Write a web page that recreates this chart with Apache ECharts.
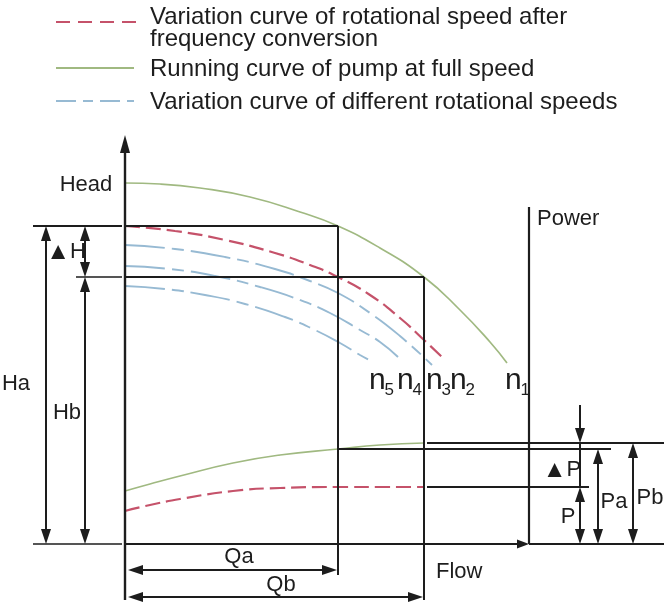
<!DOCTYPE html>
<html><head><meta charset="utf-8">
<script src="https://cdn.jsdelivr.net/npm/echarts@6/dist/echarts.min.js"></script>
<style>html,body{margin:0;padding:0;background:#fff}#c{width:666px;height:606px}</style>
</head><body><div id="c"></div>
<script>
// ---- Data (flow Q on x, head H / power P on y; origin at axis crossing) ----
const fullSpeedHeadQ = [0, 35, 75, 125, 175, 213, 255, 299, 335, 365, 382];
const fullSpeedHeadH = [361, 360, 356, 347, 332, 318, 296, 267, 234, 202, 181];
const vfdHeadQ = [0, 50, 100, 150, 185, 213, 245, 275, 299, 318];
const vfdHeadH = [318, 313, 304, 291, 279, 267, 249, 226, 204, 186];
const n3Q = [0, 50, 100, 150, 185, 213, 245, 275, 307];
const n3H = [299, 295, 287, 275, 263, 251, 231, 208, 179];
const n4Q = [0, 45, 90, 135, 175, 205, 235, 255, 273];
const n4H = [278, 275, 268, 257, 244, 231, 214, 202, 187];
const n5Q = [0, 40, 80, 120, 160, 190, 215, 235, 248];
const n5H = [258, 255, 249, 240, 227, 214, 201, 189, 182];
const fullSpeedPowerQ = [0, 25, 55, 108, 155, 213, 255, 299];
const fullSpeedPowerP = [53, 60, 68, 81, 89, 95, 99, 101];
const vfdPowerQ = [0, 25, 55, 108, 155, 213, 255, 299];
const vfdPowerP = [33, 39, 45, 53, 56, 57, 57, 57];
const speedSubscripts = ['5', '4', '3', '2', '1'];
const legendNames = [
  'Variation curve of rotational speed after\nfrequency conversion',
  'Running curve of pump at full speed',
  'Variation curve of different rotational speeds'
];
const axisNames = ['Head', 'Power', 'Flow'];
const dimNames = ['Ha', 'Hb', '{t|▲}H', 'Qa', 'Qb', '{t|▲}P', 'P', 'Pa', 'Pb'];
// operating points
const Qa = 213, Qb = 299, Ha = 318, Hb = 267, Pa = 95, Pb = 101, Pp = 57;

// ---- Layout ----
const FONT = '"Liberation Sans", Arial, Helvetica, sans-serif';
const INK = '#1d1d1d';
const RED = '#c5526a', GREEN = '#a0b981', BLUE = '#97bad3';
const L = {
  headTop: 409, bottom: -56, powerX: 404, rightEdge: 539, leftEdge: -92, powerTop: 337,
  qaY: -26, qbY: -53, haX: -79, hbX: -40, hbLeft: -49,
  dpX: 455, dpTop: 139, paX: 473, pbX: 508, paEnd: 486, pEnd: 464, lineStart: 302,
  nX: [244, 272, 301, 325, 380], nBase: 153
};
const zip = (a, b) => a.map((v, i) => [v, b[i]]);

// segments: x1,y1,x2,y2,arrowStart,arrowEnd,headLen,headHalfW,lineWidth
const segs = [
  [0, L.bottom, 0, L.headTop, 0, 1, 18, 5, 2.4],
  [0, 0, L.powerX, 0, 0, 1, 12, 4.5, 2.2],
  [L.powerX, 0, L.rightEdge, 0, 0, 0, 0, 0, 2],
  [L.leftEdge, 0, -3, 0, 0, 0, 0, 0, 1.6],
  [L.leftEdge, Ha, -3, Ha, 0, 0, 0, 0, 1.8],
  [L.hbLeft, Hb, -3, Hb, 0, 0, 0, 0, 1.6],
  [0, Ha, Qa, Ha, 0, 0, 0, 0, 2],
  [Qa, Ha, Qa, -31, 0, 0, 0, 0, 2],
  [0, Hb, Qb, Hb, 0, 0, 0, 0, 2],
  [Qb, Hb, Qb, L.bottom, 0, 0, 0, 0, 2],
  [L.powerX, L.powerTop, L.powerX, 0, 0, 0, 0, 0, 2.2],
  [L.haX, Ha, L.haX, 0, 1, 1, 15, 5, 2],
  [L.hbX, Ha, L.hbX, Hb, 1, 1, 15, 5, 2],
  [L.hbX, Hb, L.hbX, 0, 1, 1, 15, 5, 2],
  [3, L.qaY, Qa - 1, L.qaY, 1, 1, 15, 5, 2],
  [3, L.qbY, Qb - 1, L.qbY, 1, 1, 15, 5, 2],
  [L.lineStart, Pb, L.rightEdge, Pb, 0, 0, 0, 0, 2],
  [Qa, Pa, L.paEnd, Pa, 0, 0, 0, 0, 2],
  [L.lineStart, Pp, L.pEnd, Pp, 0, 0, 0, 0, 2],
  [L.dpX, L.dpTop, L.dpX, Pb, 0, 1, 15, 5, 2],
  [L.dpX, Pb, L.dpX, Pp, 0, 0, 0, 0, 2],
  [L.dpX, Pp, L.dpX, 0, 1, 1, 15, 5, 2],
  [L.paX, Pa, L.paX, 0, 1, 1, 15, 5, 2],
  [L.pbX, Pb, L.pbX, 0, 1, 1, 15, 5, 2]
];

const triRich = { t: { fontSize: 24, fontFamily: FONT, fill: INK } };
const textItems = [
  { text: axisNames[0], at: [-39, 359], align: 'center' },
  { text: axisNames[1], at: [412, 325], align: 'left' },
  { text: axisNames[2], at: [311, -28], align: 'left' },
  { text: dimNames[0], at: [-109, 160], align: 'center' },
  { text: dimNames[1], at: [-58, 131], align: 'center' },
  { text: dimNames[2], at: [-59, 292], align: 'center' },
  { text: dimNames[3], at: [114, -13], align: 'center' },
  { text: dimNames[4], at: [156, -41], align: 'center' },
  { text: dimNames[5], at: [437, 74], align: 'center' },
  { text: dimNames[6], at: [443, 27], align: 'center' },
  { text: dimNames[7], at: [489, 42], align: 'center' },
  { text: dimNames[8], at: [525, 46], align: 'center' }
];

function renderSeg(params, api) {
  const p1 = api.coord([api.value(0), api.value(1)]);
  const p2 = api.coord([api.value(2), api.value(3)]);
  const a1 = api.value(4), a2 = api.value(5), len = api.value(6), hw = api.value(7), lw = api.value(8);
  const dx = p2[0] - p1[0], dy = p2[1] - p1[1];
  const d = Math.hypot(dx, dy) || 1, ux = dx / d, uy = dy / d;
  let s = p1, e = p2;
  if (a1) s = [p1[0] + ux * len * 0.7, p1[1] + uy * len * 0.7];
  if (a2) e = [p2[0] - ux * len * 0.7, p2[1] - uy * len * 0.7];
  const ch = [{ type: 'line', shape: { x1: s[0], y1: s[1], x2: e[0], y2: e[1] }, style: { stroke: INK, lineWidth: lw } }];
  const head = (tip, vx, vy) => {
    const bx = tip[0] - vx * len, by = tip[1] - vy * len;
    return { type: 'polygon', shape: { points: [[tip[0], tip[1]], [bx - vy * hw, by + vx * hw], [bx + vy * hw, by - vx * hw]] }, style: { fill: INK } };
  };
  if (a2) ch.push(head(p2, ux, uy));
  if (a1) ch.push(head(p1, -ux, -uy));
  return { type: 'group', children: ch };
}

function renderText(params, api) {
  const cfg = textItems[params.dataIndex];
  const p = api.coord([api.value(0), api.value(1)]);
  return { type: 'text', x: p[0], y: p[1], style: {
    text: cfg.text, fontSize: 22, fontFamily: FONT, fill: INK,
    align: cfg.align, verticalAlign: 'middle', rich: triRich } };
}

function renderSpeed(params, api) {
  const p = api.coord([api.value(0), api.value(1)]);
  const fs = 30, fsub = 17;
  return { type: 'group', children: [
    { type: 'text', x: p[0], y: p[1] - 0.3465 * fs, style: { text: 'n', fontSize: fs, fontFamily: FONT, fill: INK, align: 'left', verticalAlign: 'middle' } },
    { type: 'text', x: p[0] + 15.5, y: p[1] + 5 - 0.3465 * fsub, style: { text: speedSubscripts[params.dataIndex], fontSize: fsub, fontFamily: FONT, fill: INK, align: 'left', verticalAlign: 'middle' } }
  ] };
}

const curve = (name, data, color, width, dash) => ({
  name, type: 'line', data, smooth: true, symbol: 'none', showSymbol: false, z: 2,
  lineStyle: { color, width, type: dash || 'solid' }, silent: true
});

const chart = echarts.init(document.getElementById('c'), null, { renderer: 'canvas' });
chart.setOption({
  animation: false,
  backgroundColor: '#fff',
  grid: { left: 0, right: 0, top: 0, bottom: 0 },
  xAxis: { type: 'value', min: -125, max: 541, show: false },
  yAxis: { type: 'value', min: -62, max: 544, show: false },
  series: [
    curve('full head', zip(fullSpeedHeadQ, fullSpeedHeadH), GREEN, 1.7),
    curve('vfd head', zip(vfdHeadQ, vfdHeadH), RED, 2.2, [15, 6]),
    curve('n3', zip(n3Q, n3H), BLUE, 1.9, [40, 7, 12, 7]),
    curve('n4', zip(n4Q, n4H), BLUE, 1.9, [40, 7, 12, 7]),
    curve('n5', zip(n5Q, n5H), BLUE, 1.9, [40, 7, 12, 7]),
    curve('full power', zip(fullSpeedPowerQ, fullSpeedPowerP), GREEN, 1.7),
    curve('vfd power', zip(vfdPowerQ, vfdPowerP), RED, 2.2, [15, 6]),
    { type: 'custom', coordinateSystem: 'cartesian2d', renderItem: renderSeg, data: segs,
      encode: { x: [0, 2], y: [1, 3] }, z: 3, silent: true, clip: false },
    { type: 'custom', coordinateSystem: 'cartesian2d', renderItem: renderText, data: textItems.map(t => t.at),
      encode: { x: 0, y: 1 }, z: 4, silent: true, clip: false },
    { type: 'custom', coordinateSystem: 'cartesian2d', renderItem: renderSpeed, data: L.nX.map(x => [x, L.nBase]),
      encode: { x: 0, y: 1 }, z: 4, silent: true, clip: false }
  ],
  graphic: [
    { type: 'line', shape: { x1: 56, y1: 22, x2: 136, y2: 22 }, style: { stroke: RED, lineWidth: 2.2, lineDash: [14, 8] } },
    { type: 'text', x: 150, y: 6, style: { text: legendNames[0], fontSize: 24, lineHeight: 22, fontFamily: FONT, fill: INK, align: 'left', verticalAlign: 'top' } },
    { type: 'line', shape: { x1: 56, y1: 68, x2: 134, y2: 68 }, style: { stroke: GREEN, lineWidth: 1.8 } },
    { type: 'text', x: 150, y: 69, style: { text: legendNames[1], fontSize: 24, fontFamily: FONT, fill: INK, align: 'left', verticalAlign: 'middle' } },
    { type: 'line', shape: { x1: 56, y1: 101, x2: 134, y2: 101 }, style: { stroke: BLUE, lineWidth: 1.9, lineDash: [20, 7, 10, 7] } },
    { type: 'text', x: 150, y: 102, style: { text: legendNames[2], fontSize: 24, fontFamily: FONT, fill: INK, align: 'left', verticalAlign: 'middle' } }
  ]
});
</script></body></html>
